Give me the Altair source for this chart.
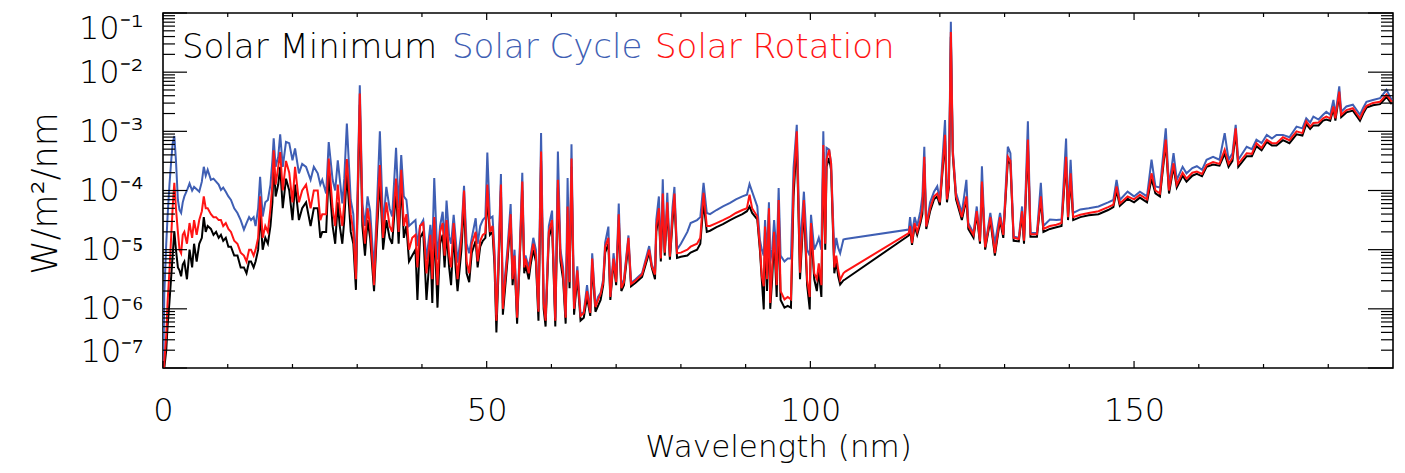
import altair as alt
import pandas as pd

# ---------------- data (log10 of W/m^2/nm) ----------------
WAVELENGTH_NM = [
    0.0, 0.2, 0.5, 0.7, 1.0, 1.3, 1.5, 1.75, 2.0, 2.3,
    2.55, 2.8, 3.05, 3.3, 3.7, 4.1, 4.5, 4.8, 5.2, 5.6,
    6.0, 6.3, 6.6, 6.9, 7.4, 7.8, 8.2, 8.6, 8.95, 9.3,
    9.7, 10.1, 10.5, 11.0, 11.5, 12.0, 12.5, 12.9, 13.3, 13.6,
    14.0, 14.3, 14.7, 15.0, 15.4, 15.8, 16.2, 16.6, 16.9, 17.1,
    17.4, 17.8, 18.1, 18.5, 19.0, 19.5, 20.0, 20.4, 21.0, 21.5,
    22.1, 22.8, 23.3, 23.9, 24.3, 24.6, 25.2, 25.6, 26.2, 26.6,
    27.0, 27.3, 27.7, 28.0, 28.4, 29.0, 29.4, 29.8, 30.4, 30.8,
    31.2, 31.6, 32.0, 32.6, 33.0, 33.5, 34.0, 34.5, 35.0, 35.4,
    36.0, 36.4, 36.8, 37.2, 37.6, 38.0, 38.5, 39.0, 39.3, 39.7,
    40.2, 40.7, 41.3, 41.6, 41.9, 42.4, 42.8, 43.2, 43.5, 43.8,
    44.2, 44.5, 44.9, 45.2, 45.5, 46.1, 46.5, 46.9, 47.3, 47.7,
    48.3, 48.6, 49.0, 49.4, 49.8, 50.1, 50.5, 50.9, 51.2, 51.5,
    51.8, 52.2, 52.5, 52.7, 53.2, 53.7, 54.0, 54.3, 54.7, 55.1,
    55.5, 55.8, 56.0, 56.5, 56.8, 57.2, 57.6, 58.0, 58.4, 58.8,
    59.1, 59.6, 60.1, 60.6, 61.0, 61.4, 61.8, 62.2, 62.5, 62.8,
    63.1, 63.5, 64.0, 64.5, 65.0, 65.5, 66.0, 66.3, 66.8, 67.2,
    67.6, 68.0, 68.3, 68.8, 69.1, 69.6, 70.0, 70.4, 70.8, 71.2,
    71.9, 72.3, 73.0, 74.0, 75.1, 75.5, 76.0, 76.2, 76.6, 76.9,
    77.2, 77.5, 77.9, 78.3, 78.7, 79.0, 79.4, 80.0, 81.0, 81.5,
    82.5, 83.0, 83.5, 84.0, 84.5, 85.5, 86.5, 87.6, 88.5, 89.5,
    90.2, 90.6, 91.0, 91.8, 92.2, 92.5, 92.8, 93.0, 93.3, 93.6,
    93.8, 94.1, 94.4, 94.8, 95.1, 95.4, 96.0, 96.5, 97.0, 97.4,
    97.9, 98.4, 99.0, 99.5, 99.9, 100.1, 100.6, 101.0, 101.3, 101.7,
    102.0, 102.3, 102.5, 102.9, 103.2, 103.7, 104.0, 104.3, 104.6, 105.1,
    105.4, 115.2, 115.4, 115.7, 116.1, 116.5, 117.0, 117.3, 117.6, 117.9,
    118.5, 119.1, 119.6, 120.0, 120.8, 121.1, 121.4, 121.7, 122.0, 122.5,
    123.4, 124.1, 124.4, 125.2, 125.7, 126.2, 126.5, 127.0, 127.8, 128.5,
    129.3, 129.8, 130.5, 130.9, 131.4, 132.2, 132.7, 133.0, 133.6, 134.0,
    135.0, 135.6, 136.0, 137.0, 138.0, 138.8, 139.5, 139.8, 140.2, 140.6,
    141.7, 143.0, 144.5, 146.0, 146.8, 147.3, 147.8, 149.0, 150.0, 150.9,
    152.0, 152.7, 153.3, 154.0, 154.9, 155.4, 156.1, 156.6, 157.5, 158.1,
    159.0, 159.7, 160.5, 161.2, 162.2, 163.2, 164.0, 164.6, 165.2, 165.7,
    166.1, 167.4, 168.2, 168.9, 169.7, 170.5, 171.3, 172.0, 173.0, 174.0,
    175.1, 176.0, 176.6, 177.2, 177.7, 178.5, 179.2, 179.7, 180.3, 180.8,
    181.1, 181.7, 182.0, 182.8, 183.8, 184.9, 185.4, 185.9, 186.9, 188.0,
    189.0, 189.8,
]

LOG10_SOLAR_MINIMUM = [
    -7.3, -7.0, -6.7, -6.3, -5.88, -5.4, -5.08, -4.69, -5.0, -5.3,
    -5.35, -5.45, -5.25, -5.2, -5.5, -5.0, -5.3, -4.9, -5.2, -4.9,
    -4.8, -4.45, -4.7, -4.6, -4.65, -4.75, -4.7, -4.8, -4.75, -4.85,
    -4.8, -4.95, -4.95, -5.1, -5.1, -5.3, -5.3, -5.4, -5.2, -5.2,
    -5.3, -5.2, -5.0, -4.4, -5.0, -4.8, -4.9, -4.6, -4.2, -3.5,
    -4.1, -3.9, -3.6, -4.3, -3.8, -4.0, -4.5, -3.9, -4.5, -4.3,
    -4.2, -4.6, -4.3, -4.3, -4.8, -4.7, -4.7, -3.7, -4.6, -4.9,
    -4.2, -4.6, -4.9, -4.5, -3.7, -4.7, -4.9, -5.68, -2.55, -4.6,
    -5.1, -4.5, -4.8, -5.7, -4.8, -3.8, -5.0, -4.5, -4.8, -4.9,
    -4.0, -4.9, -3.85, -4.8, -4.6, -5.2, -5.1, -5.0, -5.85, -4.8,
    -4.7, -5.85, -4.95, -5.9, -4.6, -5.98, -4.9, -4.75, -5.3, -4.7,
    -5.3, -5.6, -4.7, -5.3, -5.7, -5.0, -4.2, -5.4, -5.55, -5.05,
    -4.85, -5.3, -4.95, -4.85, -4.8, -4.1, -4.75, -4.7, -5.25, -6.4,
    -5.45, -4.0, -6.1, -5.84, -5.2, -4.5, -5.6, -5.2, -6.25, -5.2,
    -4.0, -5.4, -5.25, -5.5, -5.25, -5.0, -5.2, -6.2, -3.5, -6.0,
    -6.3, -4.8, -4.6, -6.3, -3.95, -5.2, -5.5, -6.25, -4.4, -5.65,
    -3.6, -6.1, -5.45, -6.2, -6.15, -5.8, -6.12, -5.25, -6.05, -5.95,
    -5.85, -5.6, -5.05, -4.9, -5.85, -5.2, -5.6, -4.5, -5.7, -5.6,
    -4.9, -5.62, -5.56, -5.46, -5.05, -5.3, -5.5, -4.7, -4.4, -5.2,
    -4.2, -5.1, -4.3, -5.17, -4.55, -4.15, -5.14, -5.12, -5.1, -5.05,
    -5.0, -4.9, -4.2, -4.7, -4.68, -4.62, -4.57, -4.5, -4.45, -4.4,
    -4.35, -4.27, -4.38, -4.49, -5.0, -5.51, -6.01, -4.7, -5.7, -4.4,
    -6.0, -5.5, -4.8, -5.8, -4.3, -5.85, -5.98, -5.95, -5.98, -4.1,
    -3.15, -5.5, -4.3, -5.6, -6.01, -4.65, -5.5, -5.7, -5.35, -5.8,
    -3.35, -5.0, -3.6, -3.45, -3.65, -5.4, -5.2, -5.45, -5.59, -5.52,
    -5.5, -4.76, -4.65, -4.92, -4.6, -4.75, -4.55, -4.4, -3.55, -4.65,
    -4.35, -4.15, -4.1, -4.25, -3.15, -4.2, -3.95, -1.4, -3.4, -4.15,
    -4.5, -4.15, -4.65, -4.8, -4.4, -4.9, -3.9, -5.0, -4.5, -5.1,
    -4.5, -4.8, -3.5, -3.55, -4.85, -4.86, -4.4, -4.9, -3.25, -4.78,
    -4.78, -4.15, -4.7, -4.65, -4.62, -4.6, -3.5, -4.5, -3.8, -4.5,
    -4.45, -4.42, -4.4, -4.33, -4.28, -4.0, -4.26, -4.14, -4.2, -4.12,
    -4.2, -3.8, -4.05, -4.1, -3.2, -4.05, -3.6, -3.95, -3.75, -3.85,
    -3.75, -3.72, -3.76, -3.6, -3.56, -3.58, -3.38, -3.6, -3.5, -3.02,
    -3.6, -3.42, -3.42, -3.25, -3.32, -3.18, -3.24, -3.24, -3.15, -3.2,
    -3.05, -3.07, -2.88, -2.96, -2.9, -2.9, -2.82, -2.8, -2.82, -2.62,
    -2.82, -2.38, -2.76, -2.68, -2.65, -2.82, -2.7, -2.6, -2.56, -2.54,
    -2.42, -2.54,
]

LOG10_SOLAR_CYCLE = [
    -7.3, -5.75, -4.9, -4.45, -3.9, -3.45, -3.2, -3.08, -3.49, -4.16,
    -4.33, -4.38, -4.2, -4.1, -4.0, -3.88, -4.0, -3.94, -3.98, -4.02,
    -3.85, -3.6, -3.75, -3.65, -3.82, -3.8, -3.85, -3.9, -3.99, -3.95,
    -4.02, -4.1, -4.16, -4.3, -4.38, -4.5, -4.66, -4.55, -4.45, -4.5,
    -4.45, -4.6, -4.3, -3.77, -4.44, -4.2, -4.16, -3.9, -3.49, -3.12,
    -3.6, -3.43, -3.05, -3.6, -3.18, -3.2, -3.49, -3.29, -3.71, -3.55,
    -3.6, -3.82, -3.6, -3.71, -3.9, -3.82, -4.05, -3.18, -3.82, -4.0,
    -3.49, -3.8, -4.22, -3.8, -2.87, -4.16, -4.4, -5.34, -2.22, -4.22,
    -4.6, -4.1, -4.35, -5.34, -4.4, -3.0, -4.6, -3.94, -4.3, -4.44,
    -3.28, -4.3, -3.4, -4.1, -4.16, -4.6, -4.55, -4.5, -4.94, -4.6,
    -4.5, -5.17, -4.58, -5.0, -3.79, -5.17, -4.6, -4.36, -4.9, -4.17,
    -4.78, -4.9, -4.41, -4.8, -5.22, -4.69, -3.92, -4.9, -5.06, -4.8,
    -4.47, -4.9, -4.6, -4.5, -4.45, -3.36, -4.47, -4.44, -5.0, -6.1,
    -5.2, -3.72, -5.9, -5.6, -5.0, -4.23, -5.4, -5.0, -6.1, -5.0,
    -3.7, -5.2, -5.1, -5.3, -5.1, -4.8, -5.0, -6.0, -3.03, -5.8,
    -6.15, -4.6, -4.34, -6.15, -3.34, -5.0, -5.3, -6.1, -3.79, -5.5,
    -3.22, -5.95, -5.28, -6.1, -6.05, -5.6, -6.05, -5.06, -5.95, -5.8,
    -5.73, -5.5, -4.88, -4.61, -5.79, -5.06, -5.5, -4.22, -5.62, -5.5,
    -4.76, -5.56, -5.5, -5.4, -4.94, -5.25, -5.39, -4.49, -4.1, -5.1,
    -3.81, -5.0, -4.04, -5.1, -4.29, -3.94, -5.0, -4.9, -4.7, -4.55,
    -4.5, -4.45, -3.87, -4.38, -4.4, -4.33, -4.27, -4.21, -4.15, -4.1,
    -4.07, -3.89, -4.02, -4.27, -4.83, -5.0, -5.1, -4.5, -5.1, -4.2,
    -5.2, -5.0, -4.5, -5.1, -3.96, -5.1, -5.2, -5.15, -5.15, -3.62,
    -2.89, -5.0, -4.02, -5.0, -5.1, -4.41, -5.0, -4.9, -4.8, -5.0,
    -3.0, -4.6, -3.28, -3.31, -3.54, -5.06, -4.8, -4.97, -5.06, -4.83,
    -4.82, -4.66, -4.45, -4.75, -4.45, -4.6, -4.35, -4.1, -3.26, -4.6,
    -4.2, -4.02, -3.93, -4.16, -2.81, -4.1, -3.8, -1.15, -3.31, -4.04,
    -4.38, -3.82, -4.55, -4.72, -4.27, -4.83, -3.59, -4.94, -4.38, -4.9,
    -4.38, -4.72, -3.26, -3.37, -4.78, -4.8, -4.27, -4.83, -2.83, -4.72,
    -4.72, -3.87, -4.6, -4.49, -4.5, -4.49, -3.12, -4.38, -3.48, -4.38,
    -4.32, -4.3, -4.27, -4.2, -4.16, -3.82, -4.16, -4.02, -4.1, -4.02,
    -4.1, -3.48, -3.93, -3.95, -2.95, -3.93, -3.37, -3.82, -3.6, -3.71,
    -3.62, -3.59, -3.65, -3.48, -3.43, -3.48, -3.03, -3.48, -3.37, -2.89,
    -3.48, -3.26, -3.3, -3.14, -3.2, -3.06, -3.12, -3.06, -3.06, -3.1,
    -2.92, -2.95, -2.78, -2.85, -2.75, -2.8, -2.72, -2.67, -2.72, -2.47,
    -2.72, -2.24, -2.67, -2.58, -2.55, -2.72, -2.6, -2.5, -2.47, -2.44,
    -2.3, -2.47,
]

LOG10_SOLAR_ROTATION = [
    -7.3, -6.9, -6.45, -5.9, -5.35, -4.7, -4.27, -3.87, -4.3, -4.7,
    -5.0, -5.06, -4.75, -4.7, -4.9, -4.55, -4.8, -4.5, -4.75, -4.5,
    -4.35, -4.1, -4.3, -4.3, -4.4, -4.45, -4.45, -4.5, -4.5, -4.6,
    -4.55, -4.65, -4.7, -4.85, -4.9, -5.05, -5.1, -5.2, -5.0, -5.0,
    -5.1, -5.0, -4.8, -4.1, -4.8, -4.6, -4.7, -4.3, -3.9, -3.32,
    -3.9, -3.6, -3.35, -4.0, -3.5, -3.7, -4.2, -3.6, -4.2, -4.0,
    -3.9, -4.3, -4.0, -4.0, -4.5, -4.4, -4.4, -3.46, -4.3, -4.6,
    -3.9, -4.3, -4.6, -4.2, -3.47, -4.4, -4.7, -5.5, -2.36, -4.4,
    -4.9, -4.3, -4.6, -5.6, -4.6, -3.57, -4.8, -4.2, -4.6, -4.7,
    -3.8, -4.7, -3.65, -4.6, -4.4, -5.0, -4.8, -4.75, -5.3, -4.6,
    -4.55, -5.4, -4.75, -5.5, -4.45, -5.6, -4.7, -4.55, -5.1, -4.5,
    -5.1, -5.3, -4.55, -5.0, -5.5, -4.8, -4.0, -5.2, -5.4, -4.9,
    -4.7, -5.2, -4.85, -4.75, -4.72, -3.9, -4.7, -4.6, -5.1, -6.2,
    -5.3, -3.9, -6.0, -5.7, -5.1, -4.4, -5.5, -5.1, -6.15, -5.1,
    -3.85, -5.3, -5.15, -5.4, -5.15, -4.9, -5.1, -6.05, -3.34, -5.9,
    -6.2, -4.7, -4.5, -6.2, -3.82, -5.1, -5.4, -6.15, -4.27, -5.55,
    -3.46, -6.0, -5.35, -6.12, -6.07, -5.7, -6.07, -5.15, -5.97, -5.85,
    -5.75, -5.55, -4.95, -4.8, -5.8, -5.15, -5.55, -4.4, -5.65, -5.55,
    -4.8, -5.58, -5.52, -5.42, -5.0, -5.28, -5.42, -4.6, -4.3, -5.15,
    -4.05, -5.05, -4.2, -5.12, -4.45, -4.05, -5.06, -5.05, -5.0, -4.95,
    -4.9, -4.8, -4.04, -4.6, -4.6, -4.55, -4.5, -4.44, -4.38, -4.33,
    -4.3, -4.07, -4.3, -4.44, -4.94, -5.45, -5.62, -4.61, -5.5, -4.3,
    -5.9, -5.3, -4.7, -5.6, -4.16, -5.7, -5.84, -5.8, -5.84, -3.9,
    -3.0, -5.39, -4.16, -5.51, -5.8, -4.55, -5.4, -5.5, -5.23, -5.6,
    -3.23, -4.9, -3.48, -3.31, -3.54, -5.3, -5.1, -5.34, -5.51, -5.4,
    -5.37, -4.72, -4.6, -4.89, -4.55, -4.7, -4.5, -4.3, -3.43, -4.61,
    -4.3, -4.1, -4.05, -4.2, -3.06, -4.15, -3.9, -1.32, -3.35, -4.1,
    -4.45, -4.1, -4.6, -4.75, -4.35, -4.86, -3.85, -4.96, -4.45, -5.06,
    -4.45, -4.75, -3.43, -3.5, -4.8, -4.82, -4.35, -4.85, -3.14, -4.74,
    -4.74, -4.1, -4.65, -4.6, -4.58, -4.55, -3.43, -4.45, -3.71, -4.45,
    -4.41, -4.38, -4.35, -4.28, -4.24, -3.93, -4.22, -4.1, -4.15, -4.07,
    -4.15, -3.71, -4.0, -4.05, -3.14, -4.0, -3.54, -3.9, -3.7, -3.8,
    -3.7, -3.68, -3.72, -3.57, -3.52, -3.55, -3.31, -3.55, -3.45, -2.95,
    -3.55, -3.37, -3.38, -3.2, -3.28, -3.14, -3.2, -3.2, -3.1, -3.15,
    -3.0, -3.03, -2.83, -2.92, -2.86, -2.85, -2.78, -2.75, -2.78, -2.58,
    -2.78, -2.33, -2.72, -2.64, -2.61, -2.78, -2.66, -2.57, -2.52, -2.5,
    -2.38, -2.5,
]

SERIES_NAMES = ["Solar Minimum", "Solar Cycle", "Solar Rotation"]
SERIES_COLORS = ["#000000", "#3f5fb4", "#ff1414"]
X_MAJOR_TICKS = [0, 50, 100, 150]
X_MINOR_TICKS = [10, 20, 30, 40, 60, 70, 80, 90, 110, 120, 130, 140, 160, 170, 180]
Y_DECADES = [-7, -6, -5, -4, -3, -2, -1]

assert len(WAVELENGTH_NM) == len(LOG10_SOLAR_MINIMUM) == len(LOG10_SOLAR_CYCLE) == len(LOG10_SOLAR_ROTATION)

# ---------------- layout ----------------
W, H = 1230, 355
FONT = "DejaVu Sans"
FW = 200
FS = 32

x_scale = alt.Scale(domain=[0, 190], nice=False, zero=False)
y_scale = alt.Scale(type="log", domain=[1e-7, 1e-1], nice=False)

SUP = "['⁰','¹','²','³','⁴','⁵','⁶','⁷','⁸','⁹']"
y_axis = alt.Axis(
    values=[10.0 ** e for e in Y_DECADES],
    labelExpr="'10⁻' + " + SUP + "[round(-log(datum.value) / LN10)]",
    tickSize=0, domain=False, grid=False,
    labelPadding=20, labelFlush=True,
    labelFont=FONT, labelFontSize=FS, labelFontWeight=FW, labelColor="black",
    title="W/m²/nm", titleFont=FONT, titleFontSize=35, titleFontWeight=FW,
    titleColor="black", titleX=-118, titleY=180, titleAngle=-90,
    titleAlign="center", titleBaseline="middle",
)
x_axis = alt.Axis(
    values=X_MAJOR_TICKS, format="d",
    tickSize=0, domain=False, grid=False,
    labelPadding=27, labelFlush=False,
    labelFont=FONT, labelFontSize=FS, labelFontWeight=FW, labelColor="black",
    title="Wavelength (nm)", titleFont=FONT, titleFontSize=31, titleFontWeight=FW,
    titleColor="black", titleX=W / 2, titleY=88, titleAlign="center",
    titleBaseline="alphabetic",
)

X_ENC = dict(scale=x_scale, axis=x_axis)
Y_ENC = dict(scale=y_scale, axis=y_axis)


def series_layer(logs, color):
    df = pd.DataFrame({
        "wavelength": WAVELENGTH_NM,
        "irradiance": [10.0 ** v for v in logs],
    })
    return alt.Chart(df).mark_line(color=color, strokeWidth=2, clip=True).encode(
        x=alt.X("wavelength:Q", **X_ENC),
        y=alt.Y("irradiance:Q", **Y_ENC),
    )


lines = [series_layer(LOG10_SOLAR_MINIMUM, SERIES_COLORS[0]),
         series_layer(LOG10_SOLAR_CYCLE, SERIES_COLORS[1]),
         series_layer(LOG10_SOLAR_ROTATION, SERIES_COLORS[2])]

# ---------------- inward ticks on all four sides ----------------
y_major_df = pd.DataFrame({"irradiance": [10.0 ** e for e in Y_DECADES]})
y_minor_df = pd.DataFrame({"irradiance": [d * 10.0 ** e for e in Y_DECADES[:-1] for d in range(2, 10)]})
x_major_df = pd.DataFrame({"wavelength": X_MAJOR_TICKS})
x_minor_df = pd.DataFrame({"wavelength": X_MINOR_TICKS})


def y_ticks(df, x0, x1):
    return alt.Chart(df).mark_rule(color="black", strokeWidth=1.2).encode(
        y=alt.Y("irradiance:Q", **Y_ENC), x=alt.value(x0), x2=alt.value(x1))


def x_ticks(df, y0, y1):
    return alt.Chart(df).mark_rule(color="black", strokeWidth=1.2).encode(
        x=alt.X("wavelength:Q", **X_ENC), y=alt.value(y0), y2=alt.value(y1))


ticks = [
    y_ticks(y_major_df, 0, 24), y_ticks(y_minor_df, 0, 12),
    y_ticks(y_major_df, W - 25, W), y_ticks(y_minor_df, W - 12, W),
    x_ticks(x_major_df, H, H - 7), x_ticks(x_minor_df, H, H - 4),
    x_ticks(x_major_df, 0, 7), x_ticks(x_minor_df, 0, 4),
]

# ---------------- in-plot legend text ----------------
LEGEND_X = [19, 289, 492]
one_row = pd.DataFrame({"k": [0]})
legend = [
    alt.Chart(one_row).mark_text(
        text=name, color=col, font=FONT, fontSize=34, fontWeight=FW,
        align="left", baseline="alphabetic",
    ).encode(x=alt.value(lx), y=alt.value(45))
    for name, col, lx in zip(SERIES_NAMES, SERIES_COLORS, LEGEND_X)
]

chart = alt.layer(*lines, *ticks, *legend).properties(
    width=W, height=H,
    autosize=alt.AutoSizeParams(type="none"),
    padding={"left": 163, "top": 13, "right": 12, "bottom": 105},
    background="white",
).configure_view(stroke="black", strokeWidth=1.6)

chart.save("out.html", embed_options={"renderer": "svg", "actions": False})
